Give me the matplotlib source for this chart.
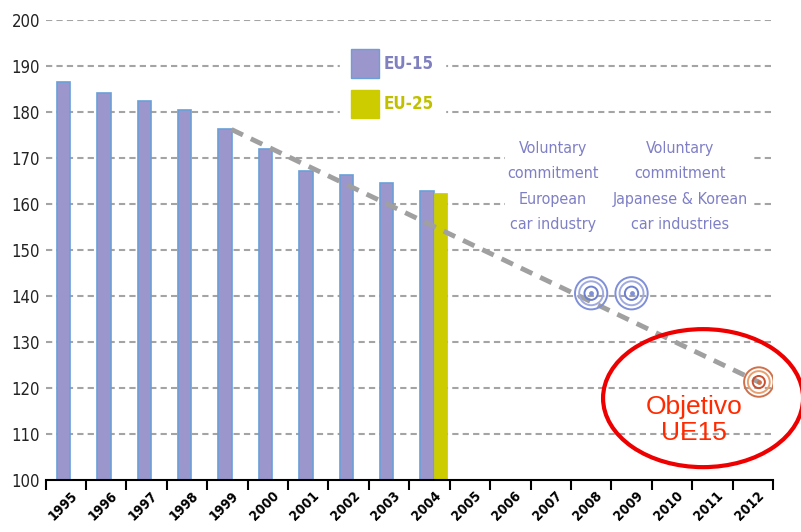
import matplotlib
matplotlib.use("Agg")
import matplotlib.pyplot as plt
import matplotlib.transforms as mtransforms
from matplotlib.patches import Ellipse, Rectangle, Patch

# data
years = list(range(1995, 2013))
eu15_years = [1995, 1996, 1997, 1998, 1999, 2000, 2001, 2002, 2003, 2004]
eu15_values = [186.5, 184.2, 182.4, 180.4, 176.2, 172.0, 167.2, 166.4, 164.6, 162.8]
eu25_years = [2004]
eu25_values = [162.3]
trend_years = [1999, 2012]
trend_values = [176.2, 121.3]
commit_years = [2008, 2009]
commit_values = [140.6, 140.6]
target_years = [2012]
target_values = [121.3]

idx = {y: i for i, y in enumerate(years)}
narrow = dict(family="DejaVu Sans", stretch="condensed")

fig = plt.figure(figsize=(8.01, 5.32), dpi=100)
ax = fig.add_axes([0.057, 0.0977, 0.908, 0.8647])
ax.set_xlim(-0.5, len(years) - 0.5)
ax.set_ylim(100, 200)

# gridlines
for v in range(110, 201, 10):
    ax.axhline(v, color="#a4a4a4", lw=1.5, ls=(0, (3, 2)), zorder=1)

# bars
w = 0.33
ax.bar([idx[y] - 0.06 for y in eu15_years], eu15_values, width=w,
       color="#9b97cc", edgecolor="#6a9fd8", lw=1.2, zorder=3)
ax.bar([idx[y] - 0.06 + w for y in eu25_years], eu25_values, width=w,
       color="#cccc00", edgecolor="#cccc00", lw=0.5, zorder=3)

# trend
tx = [idx[trend_years[0]] + 0.1, idx[trend_years[1]] + 0.15]
ax.plot(tx, trend_values, color="#a0a0a0", lw=3.5, ls=(0, (2.6, 1.8)), zorder=4)

# target rings
def rings(xs, ys, colors, big):
    for s, c in zip([big, big * 0.55, big * 0.17], colors):
        ax.scatter(xs, ys, s=s, facecolors="none", edgecolors=c,
                   linewidths=1.4, zorder=6)
    ax.scatter(xs, ys, s=6, color=colors[0], zorder=6)

rings([idx[y] for y in commit_years], commit_values,
      ["#7f8fd8", "#a0aade", "#6d7fcf"], 540)
rings([idx[y] + 0.15 for y in target_years], target_values,
      ["#d0704a", "#e8a070", "#c85030"], 450)

# white box behind commitment texts
ax.add_patch(Rectangle((10.87, 152.2), 6.1, 24, facecolor="white",
                       edgecolor="none", zorder=2))
txt_kw = dict(ha="center", va="center", color="#7f7fc6", fontsize=11.5,
              linespacing=1.85, zorder=5, **narrow)
ax.text(12.06, 163.8, "Voluntary\ncommitment\nEuropean\ncar industry", **txt_kw)
ax.text(15.2, 163.8, "Voluntary\ncommitment\nJapanese & Korean\ncar industries", **txt_kw)

# legend
leg = ax.legend(handles=[Patch(facecolor="#9b97cc", edgecolor="#6a9fd8", label="EU-15"),
                         Patch(facecolor="#cccc00", edgecolor="#cccc00", label="EU-25")],
                loc="upper left", bbox_to_anchor=(0.3935, 0.978), frameon=True,
                fancybox=False, edgecolor="white", framealpha=1,
                handlelength=1.65, handleheight=2.2, labelspacing=0.7,
                handletextpad=0.3, borderpad=0.63,
                prop={"family": "DejaVu Sans", "stretch": "condensed",
                      "weight": "bold", "size": 12.2})
leg.set_zorder(7)
for t, c in zip(leg.get_texts(), ["#8080c0", "#c0c000"]):
    t.set_color(c)

# objective ellipse
ax.add_patch(Ellipse((15.77, 117.8), 4.95, 30, facecolor="none",
                     edgecolor="#ee0000", lw=3, clip_on=False, zorder=8))
ax.text(15.55, 113.0, "Objetivo\nUE15", ha="center", va="center",
        color="#ff2a00", fontsize=19, family="Liberation Sans",
        linespacing=1.12, zorder=8)

# axes styling
for s in ["left", "top", "right"]:
    ax.spines[s].set_visible(False)
ax.spines["bottom"].set_linewidth(1.5)
ax.spines["bottom"].set_zorder(9)
ax.set_xticks([i - 0.5 for i in range(len(years) + 1)], minor=True)
ax.set_xticks(range(len(years)))
ax.set_xticklabels([str(y) for y in years], rotation=45, ha="right",
                   rotation_mode="anchor", fontsize=10, fontweight="bold",
                   **narrow)
ax.tick_params(axis="x", which="major", length=0, pad=6)
ax.tick_params(axis="x", which="minor", length=7, width=1.5, direction="out")
offset = mtransforms.ScaledTranslation(4 / 100, 0, fig.dpi_scale_trans)
for lbl in ax.get_xticklabels():
    lbl.set_transform(lbl.get_transform() + offset)

ax.set_yticks(range(100, 201, 10))
ax.set_yticklabels([str(v) for v in range(100, 201, 10)], fontsize=12,
                   color="#222222", **narrow)
ax.tick_params(axis="y", length=0, pad=4)

fig.savefig("out.png", dpi=100)
